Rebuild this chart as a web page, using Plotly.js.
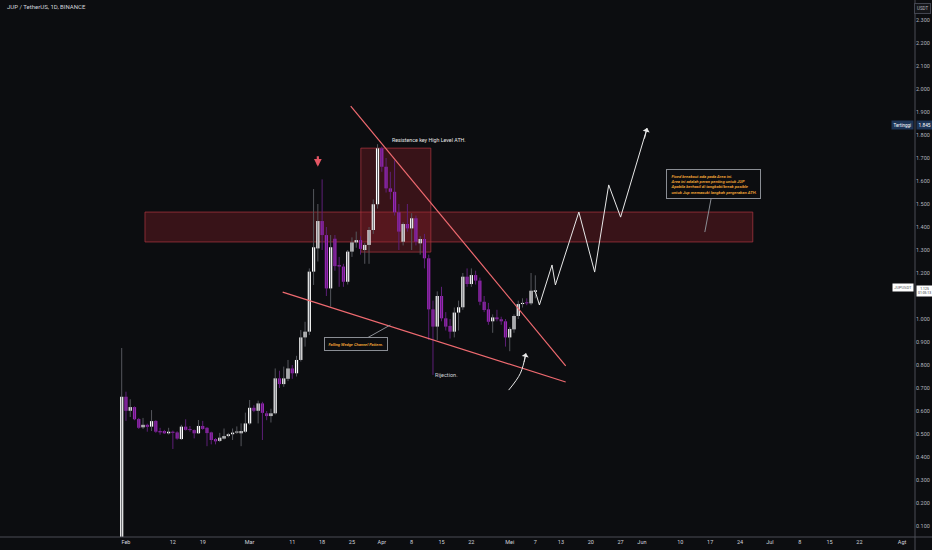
<!DOCTYPE html>
<html>
<head>
<meta charset="utf-8">
<script src="https://cdn.plot.ly/plotly-3.0.1.min.js"></script>
<style>html,body{margin:0;padding:0;background:#0c0d10;}#chart{width:932px;height:550px;}</style>
</head>
<body>
<div id="chart"></div>
<script>
// ---- candle data (JUP/USDT daily) ----
const dates = [
'2024-01-31',
'2024-02-01','2024-02-02','2024-02-03','2024-02-04','2024-02-05','2024-02-06','2024-02-07','2024-02-08','2024-02-09','2024-02-10',
'2024-02-11','2024-02-12','2024-02-13','2024-02-14','2024-02-15','2024-02-16','2024-02-17','2024-02-18','2024-02-19','2024-02-20',
'2024-02-21','2024-02-22','2024-02-23','2024-02-24','2024-02-25','2024-02-26','2024-02-27','2024-02-28','2024-02-29',
'2024-03-01','2024-03-02','2024-03-03','2024-03-04','2024-03-05','2024-03-06','2024-03-07','2024-03-08','2024-03-09','2024-03-10',
'2024-03-11','2024-03-12','2024-03-13','2024-03-14','2024-03-15','2024-03-16','2024-03-17','2024-03-18','2024-03-19','2024-03-20',
'2024-03-21','2024-03-22','2024-03-23','2024-03-24','2024-03-25','2024-03-26','2024-03-27','2024-03-28','2024-03-29','2024-03-30','2024-03-31',
'2024-04-01','2024-04-02','2024-04-03','2024-04-04','2024-04-05','2024-04-06','2024-04-07','2024-04-08','2024-04-09','2024-04-10',
'2024-04-11','2024-04-12','2024-04-13','2024-04-14','2024-04-15','2024-04-16','2024-04-17','2024-04-18','2024-04-19','2024-04-20',
'2024-04-21','2024-04-22','2024-04-23','2024-04-24','2024-04-25','2024-04-26','2024-04-27','2024-04-28','2024-04-29','2024-04-30',
'2024-05-01','2024-05-02','2024-05-03','2024-05-04','2024-05-05','2024-05-06','2024-05-07'
];
const opens = [
0.040,
0.662,0.601,0.617,0.565,0.529,0.540,0.532,0.557,0.513,0.513,
0.503,0.510,0.507,0.478,0.532,0.520,0.517,0.503,0.535,0.527,
0.507,0.478,0.470,0.480,0.491,0.499,0.506,0.503,0.510,
0.546,0.614,0.601,0.633,0.590,0.578,0.590,0.742,0.717,0.740,
0.785,0.764,0.822,0.920,0.945,1.206,1.307,1.426,1.365,1.133,
1.349,1.235,1.228,1.162,1.293,1.333,1.343,1.300,1.322,1.387,1.499,
1.742,1.662,1.568,1.553,1.464,1.336,1.413,1.394,1.438,1.329,
1.348,1.264,1.042,0.967,1.100,1.003,0.970,0.945,1.028,1.051,
1.184,1.152,1.191,1.167,1.075,1.042,0.990,1.007,0.999,0.990,
0.920,0.955,1.013,1.065,1.070,1.068,1.118
];
const highs = [
0.874,
0.684,0.651,0.620,0.570,0.570,0.545,0.604,0.560,0.527,0.518,
0.527,0.515,0.512,0.540,0.564,0.535,0.520,0.561,0.557,0.530,
0.510,0.482,0.505,0.524,0.505,0.524,0.533,0.546,0.593,
0.648,0.625,0.645,0.640,0.600,0.610,0.785,0.775,0.793,0.822,
0.800,0.840,0.952,0.988,1.220,1.565,1.500,1.607,1.400,1.365,
1.365,1.270,1.240,1.300,1.355,1.380,1.360,1.330,1.400,1.520,1.760,
1.750,1.700,1.640,1.690,1.500,1.420,1.500,1.460,1.450,1.360,
1.370,1.280,1.080,1.120,1.140,1.030,1.000,1.050,1.080,1.200,
1.220,1.220,1.210,1.180,1.100,1.070,1.020,1.040,1.010,1.000,
0.965,1.020,1.080,1.090,1.090,1.200,1.190
];
const lows = [
0.040,
0.557,0.574,0.560,0.522,0.522,0.510,0.513,0.505,0.497,0.500,
0.498,0.435,0.475,0.474,0.515,0.510,0.481,0.500,0.518,0.447,
0.455,0.455,0.465,0.476,0.485,0.474,0.500,0.447,0.505,
0.540,0.595,0.546,0.474,0.560,0.550,0.585,0.700,0.705,0.730,
0.740,0.750,0.815,0.880,0.930,1.148,1.250,1.300,1.100,1.054,
1.210,1.140,1.140,1.150,1.270,1.310,1.280,1.240,1.240,1.370,1.480,
1.640,1.550,1.520,1.450,1.300,1.320,1.380,1.300,1.320,1.280,
1.220,0.909,0.757,0.909,0.990,0.950,0.915,0.920,0.950,1.040,
1.140,1.140,1.150,1.060,1.030,0.975,0.940,0.990,0.975,0.880,
0.860,0.940,1.000,1.050,1.060,1.060,1.090
];
const closes = [
0.662,
0.601,0.617,0.564,0.527,0.540,0.531,0.556,0.510,0.507,0.503,
0.510,0.505,0.480,0.532,0.518,0.517,0.503,0.535,0.522,0.504,
0.474,0.468,0.484,0.491,0.499,0.506,0.509,0.513,0.546,
0.614,0.601,0.633,0.592,0.578,0.590,0.742,0.717,0.742,0.785,
0.764,0.822,0.920,0.945,1.206,1.312,1.426,1.365,1.133,1.312,
1.230,1.228,1.162,1.293,1.333,1.343,1.305,1.322,1.387,1.499,1.742,
1.662,1.568,1.553,1.464,1.380,1.413,1.394,1.438,1.336,1.348,
1.264,1.042,0.967,1.100,1.003,0.967,0.945,1.028,1.051,1.184,
1.152,1.191,1.167,1.075,1.039,0.988,1.007,0.999,0.990,0.920,
0.957,1.013,1.065,1.070,1.068,1.123,1.125
];

// ---- axis ticks (1.100 is hidden behind the price label in the reference) ----
const xTickVals = ['2024-02-01','2024-02-12','2024-02-19','2024-03-01','2024-03-11','2024-03-18','2024-03-25',
  '2024-04-01','2024-04-08','2024-04-15','2024-04-22','2024-05-01','2024-05-07','2024-05-13','2024-05-20','2024-05-27',
  '2024-06-01','2024-06-10','2024-06-17','2024-06-24','2024-07-01','2024-07-08','2024-07-15','2024-07-22','2024-08-01'];
const xTickText = ['Feb','12','19','Mar','11','18','25','Apr','8','15','22','Mei','7','13','20','27',
  'Jun','10','17','24','Jul','8','15','22','Agt'];
const yTickVals = [0.1,0.2,0.3,0.4,0.5,0.6,0.7,0.8,0.9,1.0,1.2,1.3,1.4,1.5,1.6,1.7,1.8,1.9,2.0,2.1,2.2,2.3];

// ---- drawings (trend lines, projection) ----
const upperLineX = ['2024-03-24 17:00','2024-05-14 03:00'];
const upperLineY = [1.926, 0.796];
const lowerLineX = ['2024-03-08 18:00','2024-05-14 03:00'];
const lowerLineY = [1.117, 0.726];
const projX = ['2024-05-07 00:00','2024-05-07 23:00','2024-05-10 22:00','2024-05-11 17:00','2024-05-17 05:00',
  '2024-05-20 22:00','2024-05-24 05:00','2024-05-27 00:00','2024-06-02 05:00'];
const projY = [1.119, 1.061, 1.235, 1.148, 1.465, 1.204, 1.583, 1.443, 1.830];
const curveX = ['2024-04-30 18:00','2024-05-03 12:00','2024-05-04 19:00'];
const curveY = [0.691, 0.764, 0.851];

const UP = '#ffffff', DOWN = '#9a27b5';
const isUp = closes.map((c, i) => c >= opens[i]);
const bodyBase = closes.map((c, i) => Math.min(c, opens[i]));
const bodyH = closes.map((c, i) => Math.max(Math.abs(c - opens[i]), 0.005));

const traces = [
  { type: 'ohlc', x: dates, open: opens, high: highs, low: lows, close: closes,
    tickwidth: 0, hoverinfo: 'skip',
    increasing: { line: { color: '#54565c', width: 1 } },
    decreasing: { line: { color: '#5e1f78', width: 1 } }, showlegend: false },
  { type: 'bar', x: dates, y: bodyH, base: bodyBase, width: 0.75 * 86400000,
    marker: { color: isUp.map(u => u ? UP : DOWN), line: { width: 0 } }, hoverinfo: 'skip', showlegend: false },
  { type: 'scatter', mode: 'lines', x: upperLineX, y: upperLineY, line: { color: '#ef6a70', width: 1.2 }, hoverinfo: 'skip', showlegend: false },
  { type: 'scatter', mode: 'lines', x: lowerLineX, y: lowerLineY, line: { color: '#ef6a70', width: 1.2 }, hoverinfo: 'skip', showlegend: false },
  { type: 'scatter', mode: 'lines', x: projX, y: projY, line: { color: '#e8e8e8', width: 1 }, hoverinfo: 'skip', showlegend: false },
  { type: 'scatter', mode: 'lines', x: curveX, y: curveY, line: { color: '#e8e8e8', width: 1, shape: 'spline' }, hoverinfo: 'skip', showlegend: false }
];

const zoneStyle = { fillcolor: 'rgba(150,35,45,0.32)', line: { color: 'rgba(175,55,65,0.7)', width: 1 }, layer: 'below' };
const shapes = [
  Object.assign({ type: 'rect', xref: 'x', yref: 'y', x0: '2024-02-05 11:00', x1: '2024-06-27 00:00', y0: 1.335, y1: 1.465 }, zoneStyle),
  Object.assign({ type: 'rect', xref: 'x', yref: 'y', x0: '2024-03-27 02:00', x1: '2024-04-12 12:00', y0: 1.291, y1: 1.743 }, zoneStyle),
  { type: 'line', xref: 'paper', yref: 'paper', x0: 0, x1: 1.02, y0: 0, y1: 0, line: { color: '#4a4d55', width: 1 } },
  { type: 'line', xref: 'paper', yref: 'paper', x0: 1, x1: 1, y0: -0.03, y1: 1, line: { color: '#4a4d55', width: 1 } }
];

const FONT = 'Roboto, "Noto Sans", sans-serif';
const orange = '#f0a437';
const annotations = [
  { xref: 'paper', yref: 'paper', x: 0.005, y: 0.987, xanchor: 'left', yanchor: 'middle', showarrow: false,
    text: 'JUP / TetherUS, 1D, BINANCE', font: { size: 6, color: '#d1d4dc', family: FONT } },
  { xref: 'paper', yref: 'paper', x: 1.0085, y: 0.985, xanchor: 'center', yanchor: 'middle', showarrow: false,
    text: 'USDT', font: { size: 4.5, color: '#b2b5be', family: FONT }, bordercolor: '#434651', borderwidth: 1, borderpad: 2, bgcolor: '#15161a' },
  { xref: 'x', yref: 'y', x: '2024-04-12 00:00', y: 1.778, showarrow: false,
    text: 'Resistence key High Level ATH.', font: { size: 5.3, color: '#e6e6e6', family: FONT } },
  { xref: 'x', yref: 'y', x: '2024-04-16 05:00', y: 0.757, showarrow: false,
    text: 'Rijection.', font: { size: 5.5, color: '#d1d4dc', family: FONT } },
  { xref: 'x', yref: 'y', x: '2024-06-15 18:00', y: 1.378, ax: 9, ay: -48, showarrow: true, arrowhead: 0, arrowwidth: 1, arrowcolor: '#8a8d94',
    align: 'left', text: 'Fixed breakout ada pada Area ini.<br>Area ini adalah peran penting untuk JUP<br>Apabila berhasil di tangkabi/break posible<br>untuk Jup memasuki langkah pergerakan ATH.',
    font: { size: 4.2, color: orange, family: FONT, style: 'italic', weight: 600 }, bgcolor: '#0c0d10', bordercolor: '#8a8d94', borderwidth: 1, borderpad: 3.5 },
  { xref: 'x', yref: 'y', x: '2024-04-03 00:00', y: 0.974, ax: -34, ay: 19, showarrow: true, arrowhead: 0, arrowwidth: 1, arrowcolor: '#8a8d94',
    text: 'Falling Wedge Channel Pattern.', font: { size: 4.0, color: orange, family: FONT, style: 'italic', weight: 600 },
    bgcolor: '#0c0d10', bordercolor: '#8a8d94', borderwidth: 1, borderpad: 3.5 },
  { xref: 'x', yref: 'y', x: '2024-03-17 00:00', y: 1.662, ax: 0, ay: -12, showarrow: true, arrowhead: 2, arrowsize: 0.7,
    arrowwidth: 2.2, arrowcolor: '#e45664', text: '' },
  { xref: 'x', yref: 'y', x: projX[projX.length - 1], y: projY[projY.length - 1], ax: -3, ay: 12, showarrow: true,
    arrowhead: 1, arrowsize: 1.2, arrowwidth: 1, arrowcolor: '#e8e8e8', text: '' },
  { xref: 'x', yref: 'y', x: curveX[curveX.length - 1], y: curveY[curveY.length - 1], ax: -2, ay: 10, showarrow: true,
    arrowhead: 1, arrowsize: 1.2, arrowwidth: 1, arrowcolor: '#e8e8e8', text: '' },
  { xref: 'paper', yref: 'paper', x: 0.999, y: 0.767, xanchor: 'right', yanchor: 'middle', showarrow: false,
    text: 'Tertinggi', font: { size: 4.5, color: '#ffffff', family: FONT }, bgcolor: '#1d3557', borderpad: 1.5 },
  { xref: 'paper', yref: 'paper', x: 1.0015, y: 0.767, xanchor: 'left', yanchor: 'middle', showarrow: false,
    text: '1.845', font: { size: 4.8, color: '#ffffff', family: FONT }, bgcolor: '#1d3557', borderpad: 1.5 },
  { xref: 'paper', yref: 'paper', x: 0.999, y: 0.4637, xanchor: 'right', yanchor: 'middle', showarrow: false,
    text: 'JUPUSDT', font: { size: 4.0, color: '#555860', family: FONT }, bgcolor: '#ffffff', borderpad: 1.2 },
  { xref: 'paper', yref: 'paper', x: 1.0012, y: 0.459, xanchor: 'left', yanchor: 'middle', showarrow: false,
    text: '1.125<br>01:05:13', font: { size: 3.4, color: '#333333', family: FONT }, bgcolor: '#ffffff', borderpad: 1 }
];

const layout = {
  width: 932, height: 550,
  margin: { l: 0, r: 17, t: 0, b: 13 },
  paper_bgcolor: '#0c0d10', plot_bgcolor: '#0c0d10',
  showlegend: false, dragmode: false,
  xaxis: { type: 'date', range: ['2024-01-02 11:00', '2024-08-04 01:00'], rangeslider: { visible: false },
    tickvals: xTickVals, ticktext: xTickText, tickfont: { size: 5.5, color: '#d1d4dc', family: FONT },
    showgrid: false, zeroline: false, showline: false, ticks: '', ticklen: 0 },
  yaxis: { range: [0.0522, 2.387], side: 'right', tickvals: yTickVals, tickformat: '.3f',
    tickfont: { size: 5.5, color: '#b2b5be', family: FONT }, showgrid: false, zeroline: false, showline: false, ticks: '' },
  shapes: shapes, annotations: annotations
};

Plotly.newPlot('chart', traces, layout, { staticPlot: true, displayModeBar: false });
</script>
</body>
</html>
